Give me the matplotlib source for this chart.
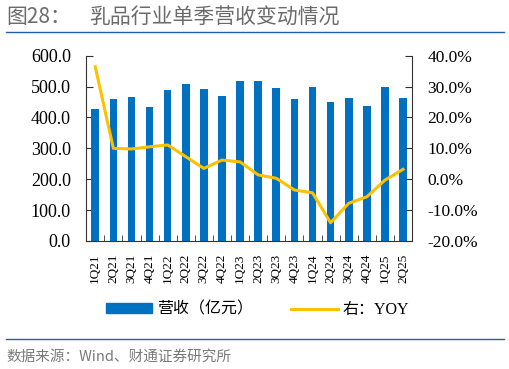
import numpy as np
import matplotlib.pyplot as plt
from matplotlib.lines import Line2D
from matplotlib.patches import Patch

quarters = ["1Q21", "2Q21", "3Q21", "4Q21", "1Q22", "2Q22", "3Q22", "4Q22", "1Q23",
            "2Q23", "3Q23", "4Q23", "1Q24", "2Q24", "3Q24", "4Q24", "1Q25", "2Q25"]
revenue = [427, 460, 467, 434, 489, 510, 492, 471, 519,
           519, 494, 460, 499, 449, 463, 437, 500, 463]
yoy = [36.4, 10.0, 9.8, 10.5, 11.1, 7.3, 3.5, 6.2, 5.6,
       1.4, 0.3, -3.5, -4.4, -14.1, -7.8, -5.7, -0.3, 3.2]

CJK = "Noto Sans CJK SC"
plt.rcParams["font.family"] = ["Liberation Serif", CJK]
BAR_C = "#0070c0"
LINE_C = "#ffc000"
RULE_C = "#1f5fae"

fig = plt.figure(figsize=(5.1, 3.69), dpi=100)

# title + rules
fig.text(0.012, 0.953, "图28：", family=CJK, fontsize=15,
         color="#6b6b6b", va="center", ha="left")
fig.text(0.174, 0.953, "乳品行业单季营收变动情况", family=CJK, fontsize=15,
         color="#6b6b6b", va="center", ha="left")
fig.add_artist(Line2D([0.012, 0.988], [0.913, 0.913], color=RULE_C, lw=1.0))
fig.add_artist(Line2D([0.012, 0.988], [0.081, 0.081], color=RULE_C, lw=1.0))
fig.text(0.012, 0.033, "数据来源：Wind、财通证券研究所", family=CJK, fontsize=10.5,
         color="#7a7a7a", va="center", ha="left")

ax = fig.add_axes([0.169, 0.347, 0.639, 0.502])
x = np.arange(len(quarters))
ax.bar(x, revenue, width=0.42, color=BAR_C, zorder=2)
ax.set_xlim(-0.5, len(quarters) - 0.5)
ax.set_ylim(0, 600)
ax.tick_params(axis="x", which="major", length=0, pad=9, labelsize=9.5)
ax.tick_params(axis="x", which="minor", direction="in", length=4, color="#333333")
ax.tick_params(axis="y", direction="in", length=5, color="#333333", pad=11, labelsize=13)
ax.set_yticks(np.arange(0, 601, 100))
ax.set_yticklabels([f"{v:.1f}" for v in np.arange(0, 601, 100)])
ax.set_xticks(x)
ax.set_xticklabels(quarters, rotation=90)
ax.set_xticks(np.arange(-0.5, len(quarters)), minor=True)
for s in ["top", "right"]:
    ax.spines[s].set_visible(False)
for s in ["left", "bottom"]:
    ax.spines[s].set_color("#333333")

ax2 = ax.twinx()
ax2.plot(x, yoy, color=LINE_C, lw=2.2, zorder=3)
ax2.set_ylim(-20, 40)
ax2.tick_params(axis="y", direction="in", length=5, color="#333333", pad=11, labelsize=12.5)
ax2.set_yticks(np.arange(-20, 41, 10))
ax2.set_yticklabels([f"{v:.1f}%" for v in np.arange(-20, 41, 10)])
for s in ["top", "left", "bottom"]:
    ax2.spines[s].set_visible(False)
ax2.spines["right"].set_color("#333333")

handles = [Patch(color=BAR_C), Line2D([], [], color=LINE_C, lw=2.2)]
fig.legend(handles, ["营收（亿元）", "右：YOY"], loc="center", bbox_to_anchor=(0.505, 0.16),
           ncol=2, frameon=False, prop={"size": 11.5},
           handlelength=2.9, handleheight=0.6, columnspacing=2.4, handletextpad=0.3)

fig.savefig("out.png", dpi=100)
